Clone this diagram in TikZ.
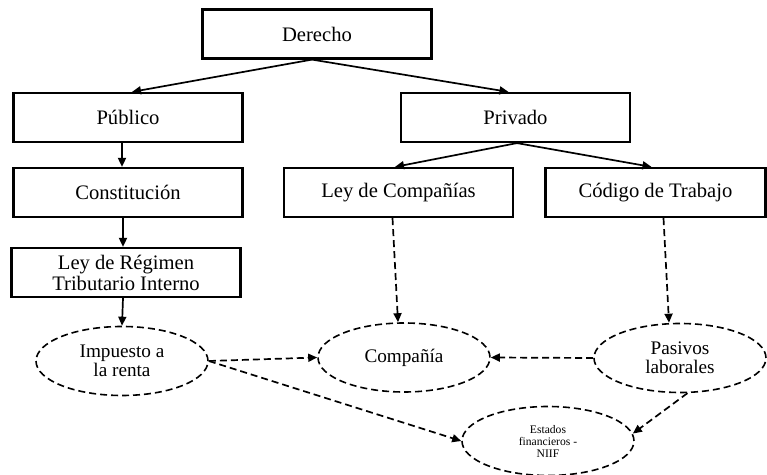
\documentclass[tikz,border=0pt]{standalone}
\usepackage{fontspec}
\setmainfont{Liberation Serif}
\usetikzlibrary{shapes.geometric,arrows.meta}

\begin{document}
\begin{tikzpicture}[x=0.5pt,y=-0.5pt,
    caja/.style={draw,line width=1.1pt,minimum width=114.5pt,minimum height=24.5pt,inner sep=0pt,align=center,font=\fontsize{10.3}{10.5}\selectfont},
    nube/.style={draw,ellipse,dash pattern=on 3.5pt off 2pt,line width=0.8pt,minimum width=86pt,minimum height=34.5pt,inner sep=0pt,align=center,font=\fontsize{9.6}{9.5}\selectfont},
    flecha/.style={-{Triangle[length=4.5pt,width=4pt]},line width=0.85pt},
    flechad/.style={flecha,dash pattern=on 3.5pt off 2pt}]
    \useasboundingbox (0,0) rectangle (767,475);
    %cajas
    \node[caja] (derecho) at (317,34) {Derecho};
    \node[caja] (publico) at (128,117.5) {Público};
    \node[caja] (privado) at (515.5,117.5) {Privado};
    \node[caja] (constitucion) at (128,192.5) {Constitución};
    \node[caja] (leycia) at (398.5,192.5) {Ley de Compañías};
    \node[caja,minimum width=110pt] (codigo) at (655.5,192.5) {Código de Trabajo};
    \node[caja] (lrti) at (126,272.5) {Ley de Régimen\\Tributario Interno};
    %elipses
    \node[nube] (impuesto) at (122,361) {Impuesto a\\la renta};
    \node[nube] (compania) at (404,357.5) {Compañía};
    \node[nube] (pasivos) at (680,358) {Pasivos\\laborales};
    \node[nube,font=\fontsize{5.8}{6}\selectfont] (estados) at (548,441) {Estados\\financieros -\\NIIF};

    \draw[flecha] ([xshift=-2.5pt]derecho.south) -- ([xshift=2pt]publico.north);
    \draw[flecha] ([xshift=-2.5pt]derecho.south) -- ([xshift=-3.5pt]privado.north);
    \draw[flecha] ([xshift=-3pt]publico.south) -- ([xshift=-3pt]constitucion.north);
    \draw[flecha] ([xshift=-2.5pt]constitucion.south) -- ([xshift=-1.5pt]lrti.north);
    \draw[flecha] ([xshift=-1.5pt]lrti.south) -- (impuesto.north);
    \draw[flecha] ([xshift=0.75pt]privado.south) -- ([xshift=-1.75pt]leycia.north);
    \draw[flecha] ([xshift=0.75pt]privado.south) -- ([xshift=-2pt]codigo.north);
    %punteadas
    \draw[flechad] ([xshift=-3pt]leycia.south) -- ([xshift=-3pt]compania.north);
    \draw[flechad] ([xshift=4pt]codigo.south) -- ([xshift=-5.5pt]pasivos.north);
    \draw[flechad] (impuesto.east) -- (compania.west);
    \draw[flechad] (impuesto.east) -- (estados.west);
    \draw[flechad] (pasivos.west) -- (compania.east);
    \draw[flechad] (pasivos.-78) -- (estados.5);
\end{tikzpicture}
\end{document}
